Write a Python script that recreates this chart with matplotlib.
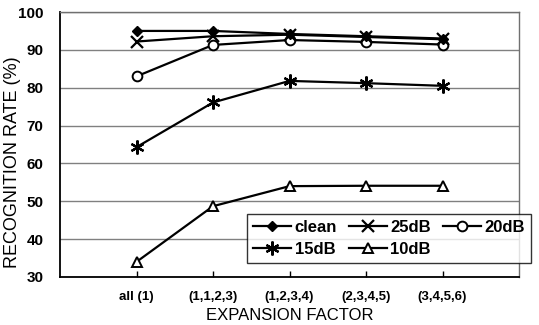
import matplotlib
matplotlib.use("Agg")
import matplotlib.pyplot as plt

categories = ["all (1)", "(1,1,2,3)", "(1,2,3,4)", "(2,3,4,5)", "(3,4,5,6)"]
clean = [95.0, 95.0, 94.2, 93.6, 93.0]
db25 = [92.2, 93.6, 94.0, 93.4, 92.8]
db20 = [83.0, 91.3, 92.6, 92.1, 91.4]
db15 = [64.3, 76.1, 81.8, 81.2, 80.5]
db10 = [34.0, 48.7, 54.0, 54.1, 54.1]

plt.rcParams['font.family'] = ['Liberation Sans', 'DejaVu Sans']

fig = plt.figure(figsize=(5.39, 3.25), dpi=100)
ax = fig.add_axes([60/539, 48/325, 459/539, 265/325])

x = list(range(1, len(categories) + 1))
lw = 1.6
h_clean, = ax.plot(x, clean, color='black', lw=lw, marker='D', ms=5.5, mfc='black', label='clean', zorder=6)
h25, = ax.plot(x, db25, color='black', lw=lw, marker='x', ms=8, mew=1.6, label='25dB', zorder=5)
h20, = ax.plot(x, db20, color='black', lw=lw, marker='o', ms=7, mfc='white', mew=1.4, label='20dB', zorder=4)
h15, = ax.plot(x, db15, color='black', lw=lw, marker=(6, 2, 0), ms=10, mew=1.6, label='15dB', zorder=4)
h10, = ax.plot(x, db10, color='black', lw=lw, marker='^', ms=7, mfc='white', mew=1.4, label='10dB', zorder=4)

ax.set_xlim(0, 6)
ax.set_ylim(30, 100)
ax.set_yticks(range(30, 101, 10))
ax.set_xticks(x)
ax.set_xticklabels(categories, fontsize=9.5, fontweight='bold')
for t in ax.get_yticklabels():
    t.set_fontsize(11)
    t.set_fontweight('bold')
ax.tick_params(axis='y', length=0, pad=12)
ax.tick_params(axis='x', length=4, width=1, direction='in', pad=10)

ax.yaxis.grid(True, color='#808080', lw=1)
ax.set_axisbelow(True)

ax.spines['left'].set_linewidth(1.3)
ax.spines['bottom'].set_linewidth(1.3)
for s in ('top', 'right'):
    ax.spines[s].set_color('#707070')
    ax.spines[s].set_linestyle((0, (1, 1)))
    ax.spines[s].set_linewidth(1)

ax.set_ylabel("RECOGNITION RATE (%)", fontsize=13)
ax.yaxis.set_label_coords(-39/459, 0.432)
ax.set_xlabel("EXPANSION FACTOR", fontsize=12, labelpad=4)

# column-major fill so rows read: clean, 25dB, 20dB / 15dB, 10dB
handles = [h_clean, h15, h25, h10, h20]
leg = ax.legend(handles, [h.get_label() for h in handles], ncol=3, loc='lower left',
                bbox_to_anchor=(247/539, (325-263)/325),
                bbox_transform=fig.transFigure, frameon=True, fancybox=False,
                edgecolor='black', fontsize=12, handlelength=2.3, handletextpad=0.2,
                columnspacing=0.7, borderpad=0.35, labelspacing=0.45, borderaxespad=0)
leg.get_frame().set_linewidth(1)
for t in leg.get_texts():
    t.set_fontweight('bold')
leg.set_zorder(10)

fig.savefig("out.png", dpi=100)
